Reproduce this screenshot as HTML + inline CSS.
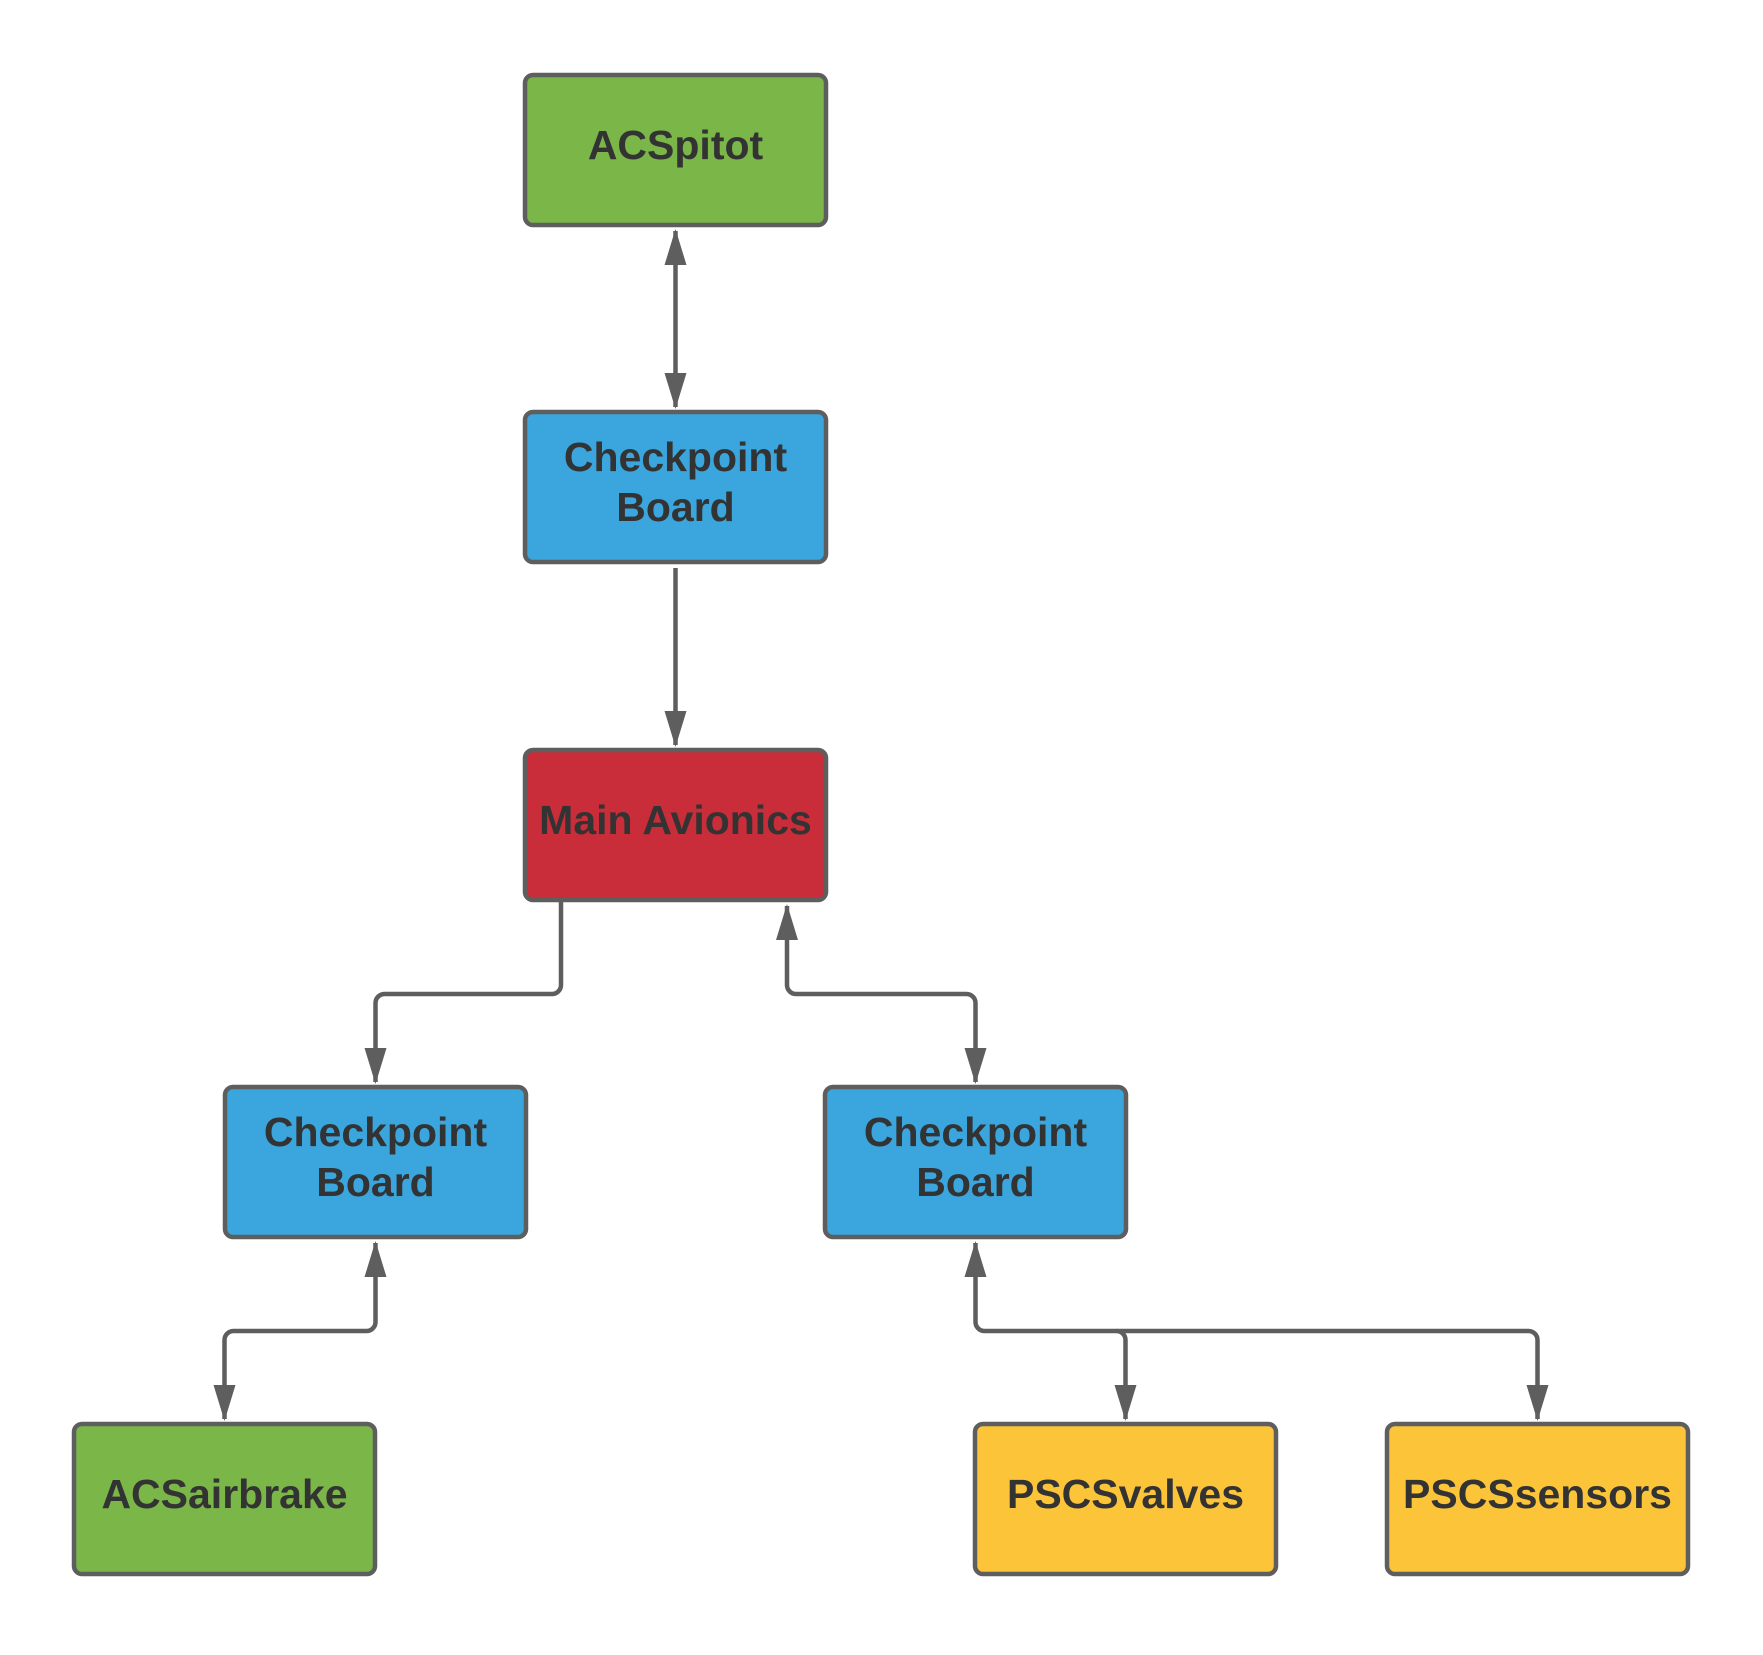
<!DOCTYPE html>
<html><head><style>html,body{margin:0;padding:0;background:#fff}</style></head><body>
<svg width="1763" height="1650" viewBox="0 0 1763 1650" xmlns="http://www.w3.org/2000/svg">
<defs>
<marker id="a" viewBox="0 0 36 22" refX="34" refY="11" markerWidth="36" markerHeight="22" markerUnits="userSpaceOnUse" orient="auto-start-reverse">
<path d="M0,0 L36,11 L0,22 Z" fill="#5e5e5e"/>
</marker>
</defs>
<g fill="none" stroke="#5e5e5e" stroke-width="4.5" stroke-linejoin="round">
<line x1="675.5" y1="231" x2="675.5" y2="407" marker-start="url(#a)" marker-end="url(#a)"/>
<line x1="675.5" y1="568" x2="675.5" y2="745" marker-end="url(#a)"/>
<path d="M561,900 V985 a9,9 0 0 1 -9,9 H384.5 a9,9 0 0 0 -9,9 V1082" marker-end="url(#a)"/>
<path d="M787,906 V985 a9,9 0 0 0 9,9 H966.5 a9,9 0 0 1 9,9 V1082" marker-start="url(#a)" marker-end="url(#a)"/>
<path d="M375.5,1243 V1322 a9,9 0 0 1 -9,9 H233.5 a9,9 0 0 0 -9,9 V1419" marker-start="url(#a)" marker-end="url(#a)"/>
<path d="M975.5,1243 V1322 a9,9 0 0 0 9,9 H1528.5 a9,9 0 0 1 9,9 V1419" marker-start="url(#a)" marker-end="url(#a)"/>
<path d="M1116.5,1331 a9,9 0 0 1 9,9 V1419" marker-end="url(#a)"/>
</g>
<g stroke="#5e5e5e" stroke-width="4.5">
<rect x="525" y="75" width="301" height="150" rx="8" fill="#7ab648"/>
<rect x="525" y="412" width="301" height="150" rx="8" fill="#3aa6dd"/>
<rect x="525" y="750" width="301" height="150" rx="8" fill="#c92d39"/>
<rect x="225" y="1087" width="301" height="150" rx="8" fill="#3aa6dd"/>
<rect x="825" y="1087" width="301" height="150" rx="8" fill="#3aa6dd"/>
<rect x="74" y="1424" width="301" height="150" rx="8" fill="#7ab648"/>
<rect x="975" y="1424" width="301" height="150" rx="8" fill="#fcc438"/>
<rect x="1387" y="1424" width="301" height="150" rx="8" fill="#fcc438"/>
</g>
<g font-family="Liberation Sans, sans-serif" font-weight="bold" font-size="41" fill="#333" text-anchor="middle">
<text x="675.5" y="159">ACSpitot</text>
<text x="675.5" y="471">Checkpoint</text><text x="675.5" y="521">Board</text>
<text x="675.5" y="834">Main Avionics</text>
<text x="375.5" y="1146">Checkpoint</text><text x="375.5" y="1196">Board</text>
<text x="975.5" y="1146">Checkpoint</text><text x="975.5" y="1196">Board</text>
<text x="224.5" y="1508">ACSairbrake</text>
<text x="1125.5" y="1508">PSCSvalves</text>
<text x="1537.5" y="1508">PSCSsensors</text>
</g>
</svg>
</body></html>
